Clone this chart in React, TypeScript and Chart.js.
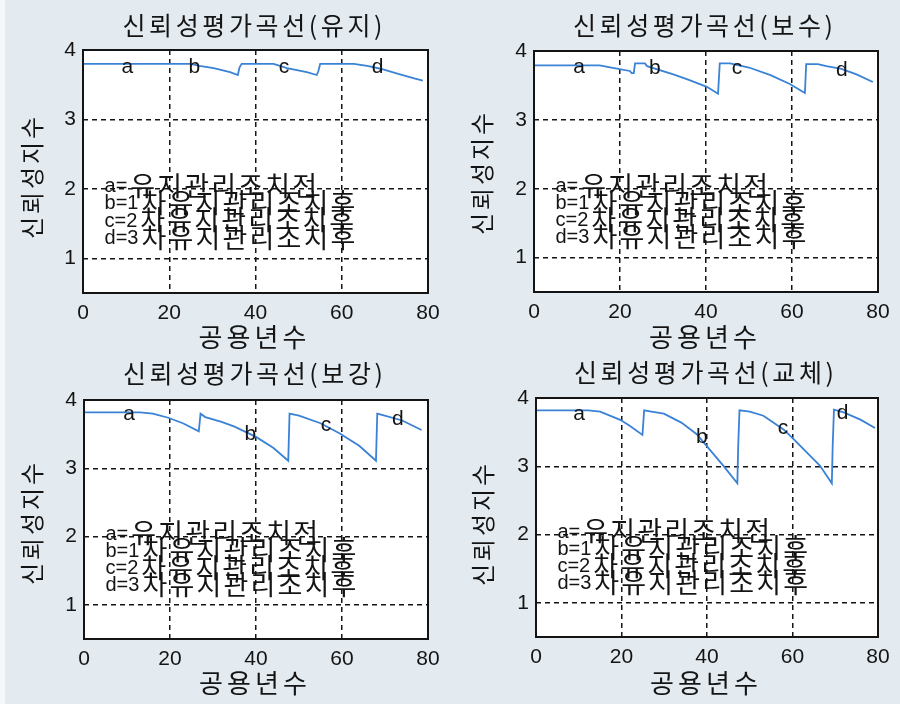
import React, { useEffect, useRef } from "react";
import { Chart, registerables } from "chart.js";

Chart.register(...registerables);

// Axis ticks shared by all four panels
const xTicks = [0, 20, 40, 60, 80];
const yTicks = [1, 2, 3, 4];
const xRange = [0, 80];
const yRange = [0.5, 4];

const xAxisTitle = "공용년수";
const yAxisTitle = "신뢰성지수";

// Legend text written inside every panel
const legendLines = ["a=유지관리조치전", "b=1차유지관리조치후", "c=2차유지관리조치후", "d=3차유지관리조치후"];
const legendX = 5;
const legendY = [2.05, 1.8, 1.55, 1.3];

const markLetters = ["a", "b", "c", "d"];

// 유지
const title1 = "신뢰성평가곡선(유지)";
const years1 = [0, 17, 25, 27, 30.3, 34.1, 35.9, 36.3, 36.8, 44.2, 47.3, 51.9, 54.2, 54.6, 55, 62.8, 65.9, 69, 72.9, 76.8, 78.8];
const index1 = [3.8, 3.8, 3.8, 3.77, 3.74, 3.68, 3.64, 3.75, 3.8, 3.8, 3.74, 3.68, 3.64, 3.7, 3.8, 3.8, 3.77, 3.73, 3.66, 3.59, 3.56];
const markX1 = [10.3, 25.8, 46.6, 68.3];
const markY1 = [3.67, 3.67, 3.67, 3.67];

// 보수
const title2 = "신뢰성평가곡선(보수)";
const years2 = [0, 15.3, 18, 22.3, 22.7, 23.2, 23.5, 25.8, 26.3, 32.4, 36, 40.2, 42.8, 43.2, 45.6, 50, 55, 59.5, 63, 63.3, 66, 68, 71.5, 75, 78.8];
const index2 = [3.79, 3.79, 3.76, 3.71, 3.68, 3.68, 3.82, 3.82, 3.78, 3.66, 3.58, 3.48, 3.38, 3.82, 3.82, 3.76, 3.65, 3.52, 3.39, 3.81, 3.81, 3.78, 3.74, 3.66, 3.55];
const markX2 = [10.5, 28.1, 47.2, 71.6];
const markY2 = [3.68, 3.67, 3.67, 3.63];

// 보강
const title3 = "신뢰성평가곡선(보강)";
const years3 = [0, 13, 16, 19.6, 23, 26.7, 27.1, 28.2, 32, 35, 40, 44, 47.5, 47.8, 50, 55, 59.5, 64, 67.9, 68.2, 69.5, 74, 78.5];
const index3 = [3.82, 3.82, 3.8, 3.74, 3.66, 3.54, 3.8, 3.75, 3.68, 3.61, 3.46, 3.3, 3.11, 3.8, 3.77, 3.66, 3.51, 3.33, 3.11, 3.8, 3.78, 3.7, 3.56];
const markX3 = [10.5, 38.7, 56.3, 73];
const markY3 = [3.71, 3.42, 3.54, 3.64];

// 교체
const title4 = "신뢰성평가곡선(교체)";
const years4 = [0, 12.2, 15, 19.7, 22, 24.9, 25.3, 27, 29.9, 34, 37.6, 39.9, 43.8, 47.1, 47.3, 47.6, 50, 53.2, 57.9, 60.2, 66.4, 69.2, 69.4, 69.7, 72, 76, 79.3];
const index4 = [3.82, 3.82, 3.8, 3.68, 3.59, 3.46, 3.82, 3.8, 3.77, 3.64, 3.47, 3.3, 3.01, 2.75, 3.3, 3.82, 3.8, 3.74, 3.54, 3.4, 3.01, 2.75, 3.3, 3.83, 3.79, 3.68, 3.56];
const markX4 = [10.1, 38.8, 57.8, 71.7];
const markY4 = [3.68, 3.34, 3.47, 3.69];

const CW = 450;
const CH = 352;
const INK = "#141414";
const LINE = "#3a82d6";
const KO = '"Noto Sans CJK KR", "Noto Sans CJK SC", sans-serif';
const LAT = '"Liberation Sans", Arial, sans-serif';

type Area = { l: number; t: number; r: number; b: number };
type PanelSpec = {
  title: string;
  xs: number[];
  ys: number[];
  mx: number[];
  my: number[];
  left: number;
  top: number;
  area: Area;
  titleY: number;
  xLabelY: number;
  yLabelX: number;
  yLabelY: number;
};

const panels: PanelSpec[] = [
  { title: title1, xs: years1, ys: index1, mx: markX1, my: markY1, left: 0, top: 0,
    area: { l: 83, t: 50, r: 428, b: 293 }, titleY: 25, xLabelY: 337, yLabelX: 32, yLabelY: 178 },
  { title: title2, xs: years2, ys: index2, mx: markX2, my: markY2, left: 450, top: 0,
    area: { l: 84, t: 51, r: 428, b: 292 }, titleY: 25, xLabelY: 337, yLabelX: 32, yLabelY: 174 },
  { title: title3, xs: years3, ys: index3, mx: markX3, my: markY3, left: 0, top: 352,
    area: { l: 84, t: 48, r: 428, b: 287 }, titleY: 21, xLabelY: 331, yLabelX: 32, yLabelY: 172 },
  { title: title4, xs: years4, ys: index4, mx: markX4, my: markY4, left: 450, top: 352,
    area: { l: 86, t: 46, r: 428, b: 285 }, titleY: 20, xLabelY: 331, yLabelX: 33, yLabelY: 173 },
];

// Draws text one glyph at a time with extra tracking. `span` stretches the
// string over that many pixels; `pitch` puts glyph starts a fixed step apart.
function tracked(
  ctx: CanvasRenderingContext2D,
  text: string,
  x: number,
  y: number,
  opts: { span?: number; pitch?: number; align?: "left" | "center" }
) {
  const chars = Array.from(text);
  ctx.textAlign = "left";
  if (opts.pitch !== undefined) {
    chars.forEach((c, i) => ctx.fillText(c, x + i * opts.pitch!, y));
    return;
  }
  const widths = chars.map((c) => ctx.measureText(c).width);
  const raw = widths.reduce((s, w) => s + w, 0);
  const gap = opts.span !== undefined ? (opts.span - raw) / Math.max(chars.length - 1, 1) : 0;
  const total = raw + gap * (chars.length - 1);
  let cx = opts.align === "center" ? x - total / 2 : x;
  chars.forEach((c, i) => {
    ctx.fillText(c, cx, y);
    cx += widths[i] + gap;
  });
}

function makeDecor(p: PanelSpec) {
  return {
    id: "panelDecor",
    beforeDraw(chart: Chart) {
      const { ctx, chartArea: a } = chart;
      ctx.save();
      ctx.fillStyle = "#ffffff";
      ctx.fillRect(a.left, a.top, a.right - a.left, a.bottom - a.top);
      ctx.restore();
    },
    afterDraw(chart: Chart) {
      const { ctx, chartArea: a } = chart;
      const xs = chart.scales.x;
      const ys = chart.scales.y;
      ctx.save();
      (ctx as any).letterSpacing = "0px";

      // plot frame
      ctx.strokeStyle = INK;
      ctx.lineWidth = 2;
      ctx.setLineDash([]);
      ctx.strokeRect(a.left, a.top, a.right - a.left, a.bottom - a.top);

      ctx.fillStyle = INK;
      const cx = (a.left + a.right) / 2;

      // title
      ctx.font = `25px ${KO}`;
      ctx.textBaseline = "middle";
      tracked(ctx, p.title, cx - 3, p.titleY, { span: 260, align: "center" });

      // x axis title
      ctx.font = `26px ${KO}`;
      tracked(ctx, xAxisTitle, cx - 3, p.xLabelY, { span: 108, align: "center" });

      // y axis title
      ctx.save();
      ctx.translate(p.yLabelX, p.yLabelY);
      ctx.rotate(-Math.PI / 2);
      ctx.font = `24px ${KO}`;
      tracked(ctx, yAxisTitle, 0, 0, { span: 122, align: "center" });
      ctx.restore();

      // curve letters
      ctx.font = `21px ${LAT}`;
      ctx.textAlign = "center";
      ctx.textBaseline = "alphabetic";
      markLetters.forEach((t, i) => {
        ctx.fillText(t, xs.getPixelForValue(p.mx[i]), ys.getPixelForValue(p.my[i]));
      });

      // legend block
      ctx.textBaseline = "middle";
      legendLines.forEach((line, i) => {
        const k = line.search(/[\uAC00-\uD7A3]/);
        const head = line.slice(0, k);
        const tail = line.slice(k);
        let x = xs.getPixelForValue(legendX);
        const y = ys.getPixelForValue(legendY[i]);
        ctx.font = `20px ${LAT}`;
        ctx.textAlign = "left";
        ctx.fillText(head, x, y + 1);
        x += ctx.measureText(head).width + 3;
        ctx.font = `27px ${KO}`;
        tracked(ctx, tail, x, y, { pitch: 27 });
      });

      ctx.restore();
    },
  };
}

function Panel({ p }: { p: PanelSpec }) {
  const ref = useRef<HTMLCanvasElement>(null);
  useEffect(() => {
    const canvas = ref.current;
    if (!canvas) return;
    const tickFont = { family: LAT, size: 21 };
    const chart = new Chart(canvas, {
      type: "line",
      data: {
        datasets: [
          {
            data: p.xs.map((x, i) => ({ x, y: p.ys[i] })),
            borderColor: LINE,
            borderWidth: 1.8,
            pointRadius: 0,
            tension: 0,
            fill: false,
          },
        ],
      },
      options: {
        responsive: false,
        animation: false,
        events: [],
        layout: { padding: { left: 0, top: p.area.t, right: CW - p.area.r, bottom: 0 } },
        plugins: {
          legend: { display: false },
          title: { display: false },
          tooltip: { enabled: false },
        },
        scales: {
          x: {
            type: "linear",
            min: xRange[0],
            max: xRange[1],
            afterBuildTicks: (s: any) => {
              s.ticks = xTicks.map((v) => ({ value: v }));
            },
            afterFit: (s: any) => {
              s.height = CH - p.area.b;
            },
            grid: { color: INK, lineWidth: 1.5, drawTicks: false },
            border: { display: false, dash: [5, 4] },
            ticks: { color: INK, font: tickFont, padding: 8, maxRotation: 0, autoSkip: false },
          },
          y: {
            type: "linear",
            min: yRange[0],
            max: yRange[1],
            afterBuildTicks: (s: any) => {
              s.ticks = yTicks.map((v) => ({ value: v }));
            },
            afterFit: (s: any) => {
              s.width = p.area.l;
            },
            grid: { color: INK, lineWidth: 1.5, drawTicks: false },
            border: { display: false, dash: [5, 4] },
            ticks: { color: INK, font: tickFont, padding: 7, autoSkip: false },
          },
        },
      },
      plugins: [makeDecor(p)],
    } as any);
    return () => chart.destroy();
  }, [p]);
  return (
    <canvas
      ref={ref}
      width={CW}
      height={CH}
      style={{ position: "absolute", left: p.left, top: p.top, width: CW, height: CH }}
    />
  );
}

export default function App() {
  return (
    <div
      style={{
        position: "absolute",
        left: 0,
        top: 0,
        width: 900,
        height: 704,
        background: "#e3ebf1",
        overflow: "hidden",
      }}
    >
      <div style={{ position: "absolute", left: 0, top: 0, width: 5, height: 704, background: "#f5f8fa" }} />
      {panels.map((p, i) => (
        <Panel key={i} p={p} />
      ))}
    </div>
  );
}
